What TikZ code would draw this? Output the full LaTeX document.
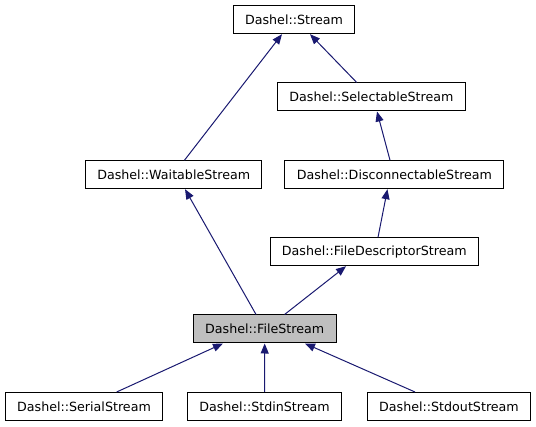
\documentclass[tikz,border=0pt]{standalone}
\usepackage{fontspec}
\setmainfont{DejaVu Sans}
\usetikzlibrary{arrows.meta}
\definecolor{edgeblue}{HTML}{191970}
\begin{document}
\begin{tikzpicture}[
            x=0.75pt, y=-0.75pt,
            class node/.style={rectangle,draw,line width=0.75pt,fill=white,font=\fontsize{9.5}{11}\selectfont,
                inner xsep=8.85pt,inner ysep=0pt,minimum height=21pt},
            current node/.style={class node,fill=black!25},
            every edge/.style={draw,line width=0.75pt,edgeblue,-{Triangle[length=7.5pt,width=6pt]}},
        ]
            \useasboundingbox (0,0) rectangle (536,427);

            \node[class node] (stream) at (294, 19.7) {Dashel::Stream};
            \node[class node] (sel) at (371.4, 97) {Dashel::SelectableStream};
            \node[class node] (wait) at (173.7, 174.7) {Dashel::WaitableStream};
            \node[class node] (disc) at (394.4, 174.7) {Dashel::DisconnectableStream};
            \node[class node] (fd) at (374.3, 251.7) {Dashel::FileDescriptorStream};
            \node[current node] (file) at (264.7, 329) {Dashel::FileStream};
            \node[class node] (serial) at (84, 406.5) {Dashel::SerialStream};
            \node[class node] (stdin) at (264.5, 406.5) {Dashel::StdinStream};
            \node[class node] (stdout) at (449, 406.5) {Dashel::StdoutStream};

            \path ([xshift=8.1pt]wait.north) edge ([xshift=-9pt]stream.south);
            \path ([xshift=-11pt]sel.north) edge ([xshift=12pt]stream.south);
            \path ([xshift=-3.3pt]disc.north) edge ([xshift=4.2pt]sel.south);
            \path ([xshift=-6.5pt]file.north) edge ([xshift=8.5pt]wait.south);
            \path ([xshift=2.8pt]fd.north) edge ([xshift=-5.2pt]disc.south);
            \path ([xshift=14.9pt]file.north) edge ([xshift=-21.2pt]fd.south);
            \path ([xshift=24.5pt]serial.north) edge ([xshift=-31.3pt]file.south);
            \path (stdin.north) edge (file.south);
            \path ([xshift=-25.5pt]stdout.north) edge ([xshift=30.2pt]file.south);
        \end{tikzpicture}
\end{document}
